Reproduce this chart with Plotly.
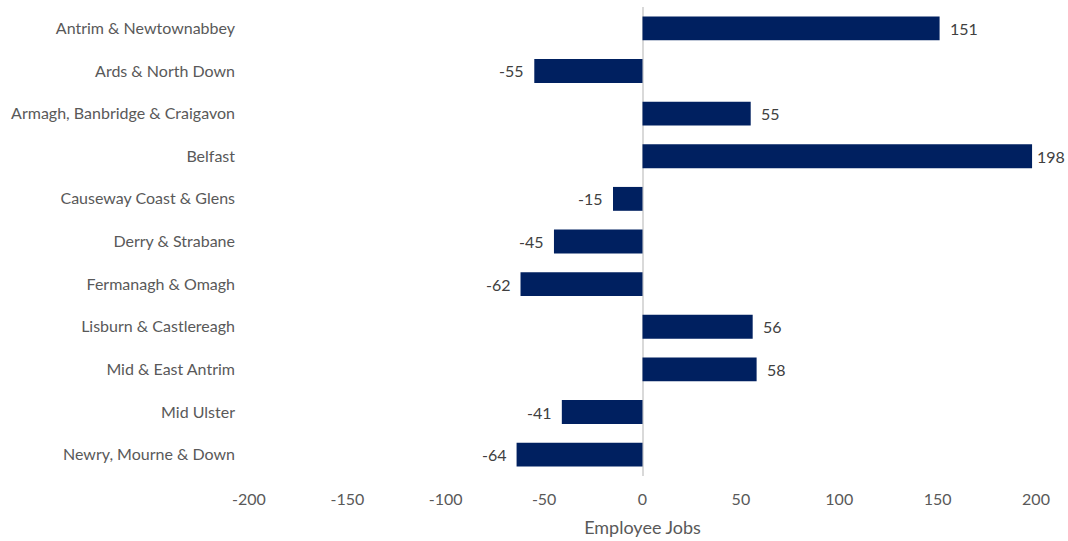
import plotly.graph_objects as go

# Change in employee jobs by council area
areas = [
    "Antrim & Newtownabbey",
    "Ards & North Down",
    "Armagh, Banbridge & Craigavon",
    "Belfast",
    "Causeway Coast & Glens",
    "Derry & Strabane",
    "Fermanagh & Omagh",
    "Lisburn & Castlereagh",
    "Mid & East Antrim",
    "Mid Ulster",
    "Newry, Mourne & Down",
]
change = [151, -55, 55, 198, -15, -45, -62, 56, 58, -41, -64]
x_ticks = [-200, -150, -100, -50, 0, 50, 100, 150, 200]

FONT = "Lato, Calibri, Carlito, sans-serif"
NAVY = "#002060"
SIZE = 16
X_MAX = 200

fig = go.Figure(
    go.Bar(
        y=areas,
        x=change,
        orientation="h",
        marker=dict(color=NAVY, line=dict(width=0)),
        width=0.56,
        hoverinfo="x+y",
    )
)

# value labels sit just beyond the end of each bar; labels near the
# right edge are pulled in so they stay on the page
for area, v in zip(areas, change):
    if v >= 0:
        shift = 8 if v < X_MAX * 0.95 else 3
        anchor = "left"
    else:
        shift = -8
        anchor = "right"
    fig.add_annotation(
        x=v,
        y=area,
        xref="x",
        yref="y",
        text=str(v),
        showarrow=False,
        xanchor=anchor,
        xshift=shift,
        font=dict(family=FONT, size=SIZE, color="#404040"),
    )

fig.update_layout(
    width=1068,
    height=541,
    margin=dict(l=249, r=32, t=7, b=65),
    paper_bgcolor="white",
    plot_bgcolor="white",
    showlegend=False,
    font=dict(family=FONT, size=SIZE, color="#595959"),
)

fig.update_xaxes(
    range=[-X_MAX, X_MAX],
    tickvals=x_ticks,
    ticktext=[str(t) for t in x_ticks],
    showgrid=False,
    zeroline=True,
    zerolinecolor="#d9d9d9",
    zerolinewidth=1.5,
    showline=False,
    ticks="",
    ticklabelstandoff=12,
    tickfont=dict(family=FONT, size=SIZE, color="#595959"),
    title=dict(text="Employee Jobs", font=dict(family=FONT, size=18, color="#595959"), standoff=14),
)

fig.update_yaxes(
    categoryorder="array",
    categoryarray=areas,
    autorange="reversed",
    showgrid=False,
    showline=False,
    ticks="",
    ticklabelstandoff=13,
    tickfont=dict(family=FONT, size=SIZE, color="#595959"),
)

fig.write_html("out.html")
